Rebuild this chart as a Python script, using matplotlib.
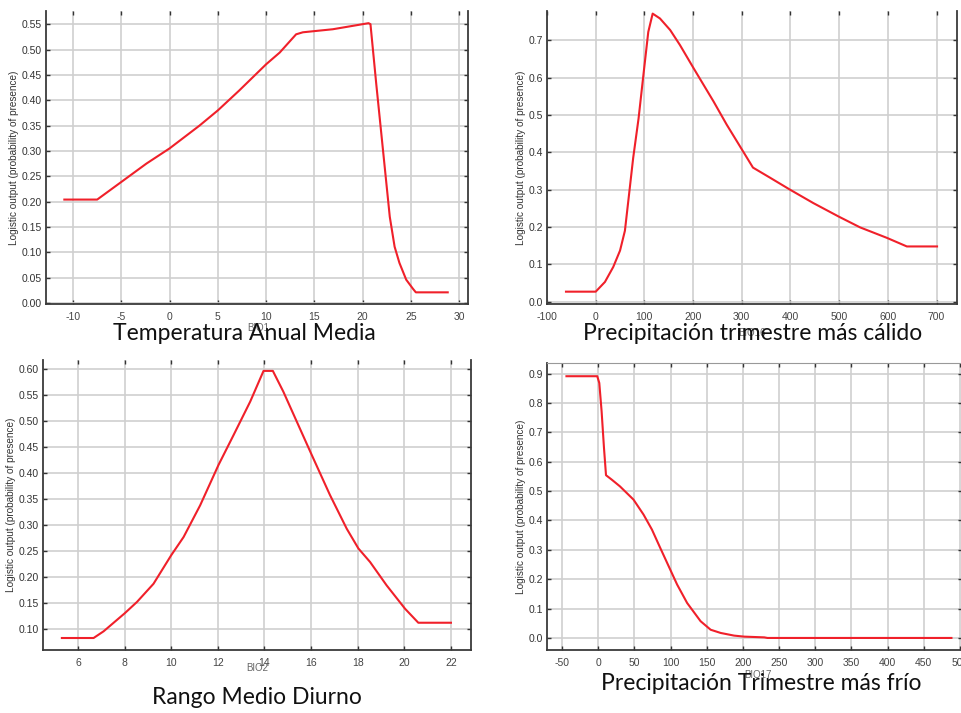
import numpy as np
import matplotlib.pyplot as plt

plt.rcParams['font.family'] = ['Liberation Sans Narrow', 'Liberation Sans', 'DejaVu Sans']
plt.rcParams['axes.unicode_minus'] = False

# BIO1 - mean annual temperature
bio1_x = [-10.9, -7.5, -5.2, -2.4, 0.0, 3.1, 5.0, 7.2, 10.0, 11.4, 13.1, 13.8, 16.9, 20.6,
          20.8, 21.4, 22.1, 22.8, 23.3, 23.8, 24.5, 25.2, 25.5, 28.8]
bio1_y = [0.204, 0.204, 0.236, 0.275, 0.305, 0.350, 0.380, 0.419, 0.471, 0.494, 0.530, 0.534,
          0.540, 0.552, 0.550, 0.432, 0.301, 0.170, 0.111, 0.079, 0.046, 0.028, 0.021, 0.021]

# BIO16 - precipitation of warmest quarter
bio16_x = [-61, 0, 19, 36, 50, 60, 67, 77, 88, 98, 108, 117, 132, 153, 173, 201, 242, 269,
           300, 323, 358, 399, 447, 499, 543, 598, 639, 701]
bio16_y = [0.027, 0.027, 0.053, 0.093, 0.137, 0.19, 0.27, 0.385, 0.49, 0.607, 0.722, 0.771,
           0.758, 0.727, 0.687, 0.625, 0.536, 0.474, 0.408, 0.359, 0.332, 0.300, 0.264,
           0.228, 0.199, 0.171, 0.148, 0.148]

# BIO2 - mean diurnal range
bio2_x = [5.31, 6.67, 7.1, 8.0, 8.53, 9.24, 10.0, 10.53, 11.24, 12.03, 12.67, 13.39, 13.96,
          14.36, 14.81, 15.39, 16.03, 16.81, 17.53, 18.03, 18.53, 19.24, 20.03, 20.6, 22.0]
bio2_y = [0.0826, 0.0826, 0.0955, 0.130, 0.152, 0.187, 0.242, 0.277, 0.338, 0.416, 0.473,
          0.538, 0.597, 0.597, 0.557, 0.499, 0.435, 0.358, 0.293, 0.255, 0.229, 0.184,
          0.139, 0.112, 0.112]

# BIO17 - precipitation of coldest quarter
bio17_x = [-44, -1.4, 1.4, 4.6, 7.9, 10.7, 18.6, 30, 48.7, 62.6, 74.2, 85.8, 97.4, 109,
           122.9, 141.5, 155.4, 169.3, 187.8, 201.8, 229.6, 234, 488.4]
bio17_y = [0.891, 0.891, 0.868, 0.772, 0.647, 0.554, 0.539, 0.516, 0.471, 0.420, 0.369,
           0.306, 0.244, 0.182, 0.119, 0.057, 0.028, 0.017, 0.008, 0.0045, 0.002, 0.0, 0.0]

ylabel = 'Logistic output (probability of presence)'
W, H = 961, 713


def box(l, t, r, b):
    return [l / W, (H - b) / H, (r - l) / W, (b - t) / H]


def panel(fig, rect, x, y, xlim, ylim, xticks, yticks, yfmt, xlab, title, xlab_pos, title_pos,
          top_spine=False):
    ax = fig.add_axes(rect)
    ax.plot(x, y, color='#f0202a', lw=1.5, zorder=3)
    ax.set_xlim(xlim)
    ax.set_ylim(ylim)
    ax.set_xticks(xticks)
    ax.set_yticks(yticks)
    ax.set_yticklabels([yfmt.format(v) for v in yticks])
    ax.grid(True, color='#cfcfcf', lw=1.2)
    ax.set_axisbelow(True)
    ax.tick_params(direction='in', length=3, width=1, colors='#333333', labelsize=7.5,
                   top=True, right=True, pad=3)
    ax.tick_params(axis='x', labelcolor='#444444', pad=6)
    ax.tick_params(axis='y', labelcolor='#333333')
    for s in ['left', 'bottom', 'right']:
        ax.spines[s].set_color('#3a3a3a')
        ax.spines[s].set_linewidth(1.3)
    ax.spines['top'].set_visible(top_spine)
    ax.spines['top'].set_color('#999999')
    ax.set_ylabel(ylabel, fontsize=7.2, color='#333333', labelpad=2)
    fig.text(xlab_pos[0] / W, 1 - xlab_pos[1] / H, xlab, fontsize=7, color='#666666',
             ha='center', va='center')
    fig.text(title_pos[0] / W, 1 - title_pos[1] / H, title, fontsize=16.5, color='#111111',
             ha='center', va='center', family=['Lato', 'DejaVu Sans'])
    return ax


fig = plt.figure(figsize=(W / 100, H / 100), dpi=100)

ax1 = panel(fig, box(46, 11, 468, 304), bio1_x, bio1_y, (-12.8, 30.9), (-0.002, 0.576),
            np.arange(-10, 31, 5), np.arange(0, 0.56, 0.05), '{:.2f}', 'BIO1',
            'Temperatura Anual Media', (258, 328), (244, 333))

ax2 = panel(fig, box(547, 11, 957, 304), bio16_x, bio16_y, (-100, 742), (-0.006, 0.778),
            np.arange(-100, 701, 100), np.arange(0, 0.71, 0.1), '{:.1f}', 'BIO16',
            'Precipitación trimestre más cálido', (752, 333), (753, 333))

ax3 = panel(fig, box(43, 360, 471, 650), bio2_x, bio2_y, (4.5, 22.86), (0.0595, 0.618),
            np.arange(6, 23, 2), np.arange(0.10, 0.61, 0.05), '{:.2f}', 'BIO2',
            'Rango Medio Diurno', (257, 668), (257, 697))

ax4 = panel(fig, box(547, 363, 962, 650), bio17_x, bio17_y, (-70.9, 503), (-0.041, 0.936),
            np.arange(-50, 501, 50), np.arange(0, 0.91, 0.1), '{:.1f}', 'BIO17',
            'Precipitación Trimestre más frío', (758, 675), (761, 683), top_spine=True)

fig.savefig('out.png', dpi=100)
